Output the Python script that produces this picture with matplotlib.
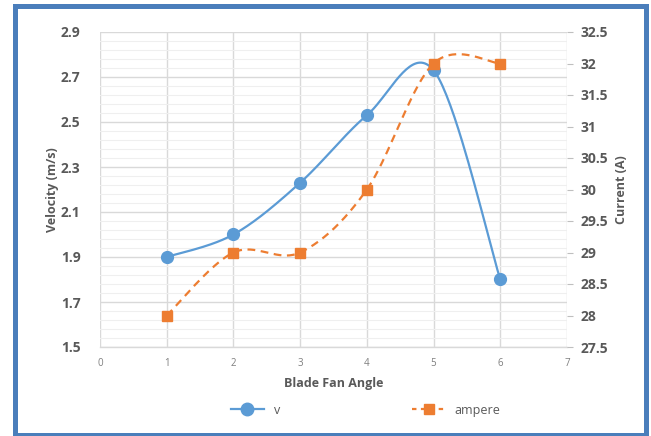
import numpy as np
import matplotlib
matplotlib.use("Agg")
import matplotlib.pyplot as plt
from matplotlib.patches import Rectangle
from matplotlib.lines import Line2D
from matplotlib.ticker import MultipleLocator, FixedLocator

angles = [1, 2, 3, 4, 5, 6]
velocity = [1.90, 2.00, 2.23, 2.53, 2.73, 1.80]
ampere = [28, 29, 29, 30, 32, 32]
v_ticks = [1.5, 1.7, 1.9, 2.1, 2.3, 2.5, 2.7, 2.9]
a_ticks = [27.5, 28, 28.5, 29, 29.5, 30, 30.5, 31, 31.5, 32, 32.5]

BLUE = "#5b9bd5"
ORANGE = "#ed7d31"
GRAY = "#595959"
FONT = "Open Sans"


def smooth(xs, ys, n=40):
    xs = np.asarray(xs, float)
    ys = np.asarray(ys, float)
    px = np.concatenate([[xs[0]], xs, [xs[-1]]])
    py = np.concatenate([[ys[0]], ys, [ys[-1]]])
    ox, oy = [], []
    t = np.linspace(0, 1, n)
    for i in range(1, len(px) - 2):
        p0 = np.array([px[i], py[i]])
        p3 = np.array([px[i + 1], py[i + 1]])
        p1 = p0 + (np.array([px[i + 1], py[i + 1]]) - np.array([px[i - 1], py[i - 1]])) / 6
        p2 = p3 - (np.array([px[i + 2], py[i + 2]]) - np.array([px[i], py[i]])) / 6
        b = ((1 - t) ** 3)[:, None] * p0 + (3 * (1 - t) ** 2 * t)[:, None] * p1 \
            + (3 * (1 - t) * t ** 2)[:, None] * p2 + (t ** 3)[:, None] * p3
        ox.extend(b[:, 0])
        oy.extend(b[:, 1])
    return np.array(ox), np.array(oy)


fig = plt.figure(figsize=(6.51, 4.36), dpi=100)
ax = fig.add_axes([100 / 651, 1 - 347 / 436, 467 / 651, 315 / 436])
ax2 = ax.twinx()

ax.set_xlim(0, 7)
ax.set_ylim(1.5, 2.9)
ax2.set_ylim(27.5, 32.5)

ax.xaxis.set_major_locator(MultipleLocator(1))
ax.yaxis.set_major_locator(FixedLocator(v_ticks))
minor = [1.5 + 0.04 * k for k in range(36)]
ax.yaxis.set_minor_locator(FixedLocator(minor))
ax2.yaxis.set_major_locator(FixedLocator(a_ticks))

ax.grid(which="major", color="#d9d9d9", linewidth=1.0)
ax.grid(which="minor", axis="y", color="#efefef", linewidth=0.8)
ax.set_axisbelow(True)

for s in ["top", "right", "left"]:
    ax.spines[s].set_visible(False)
for s in ["top", "left", "bottom", "right"]:
    ax2.spines[s].set_visible(False)
ax.spines["bottom"].set_color("#d9d9d9")
ax.spines["bottom"].set_linewidth(1.0)

ax.tick_params(axis="y", which="both", length=0, labelsize=10, labelcolor=GRAY, pad=14)
ax.tick_params(axis="x", length=0, labelsize=7, labelcolor="#7f7f7f", pad=8)
ax2.tick_params(axis="y", length=4, color="#bfbfbf", labelsize=10, labelcolor=GRAY, pad=6)
ax.set_yticklabels([f"{v:.1f}" for v in v_ticks])
ax2.set_yticklabels([f"{v:g}" for v in a_ticks])
for lab in ax.get_yticklabels() + ax2.get_yticklabels():
    lab.set_fontweight("bold")
    lab.set_fontfamily(FONT)
for lab in ax.get_xticklabels():
    lab.set_fontfamily(FONT)

vx, vy = smooth(angles, velocity)
ax.plot(vx, vy, color=BLUE, linewidth=1.6, zorder=3)
ax.plot(angles, velocity, linestyle="none", marker="o", markersize=8.5,
        color=BLUE, zorder=4)

axx, ayy = smooth(angles, ampere)
ax2.plot(axx, ayy, color=ORANGE, linewidth=1.6, linestyle=(0, (3.5, 2.5)), zorder=3)
ax2.plot(angles, ampere, linestyle="none", marker="s", markersize=7,
         color=ORANGE, zorder=4)

ax.set_xlabel("Blade Fan Angle", fontsize=9, fontweight="bold", color=GRAY,
              family=FONT, labelpad=6)
ax.set_ylabel("Velocity (m/s)", fontsize=9, fontweight="bold", color=GRAY,
              family=FONT, labelpad=1)
ax2.set_ylabel("Current (A)", fontsize=9, fontweight="bold", color=GRAY,
               family=FONT, labelpad=5)

h1 = Line2D([], [], color=BLUE, linewidth=1.6, marker="o", markersize=9)
h2 = Line2D([], [], color=ORANGE, linewidth=1.6, linestyle=(0, (2, 2)),
            marker="s", markersize=7)
fig.legend([h1, h2], ["v", "ampere"], loc="center", bbox_to_anchor=(0.562, 1 - 410 / 436),
           ncol=2, frameon=False, columnspacing=10.6, handlelength=2.6,
           prop={"family": FONT, "size": 9}, labelcolor=GRAY)

fig.patches.append(Rectangle((14.5 / 651, 1.5 / 436), 631 / 651, 428 / 436,
                             transform=fig.transFigure, fill=False,
                             edgecolor="#4a7ebb", linewidth=3.6))

fig.savefig("out.png", dpi=100)
